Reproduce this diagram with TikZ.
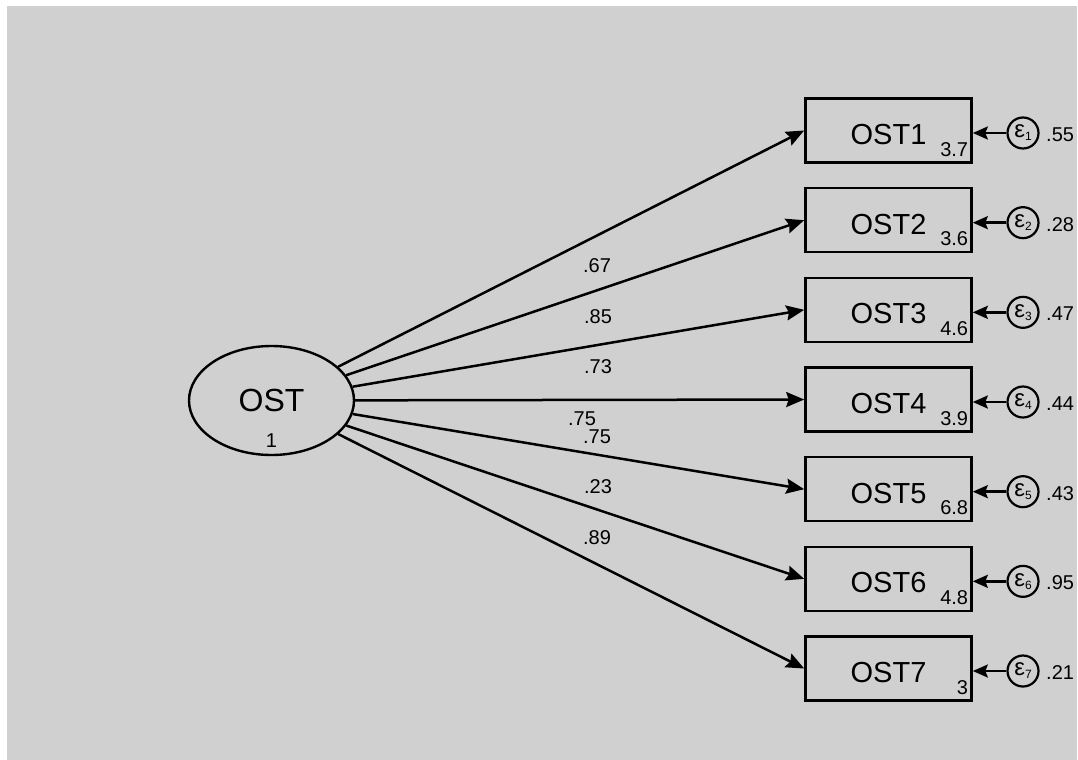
\documentclass[tikz,border=0pt]{standalone}
\usepackage{fontspec}
\setmainfont{Liberation Sans}
\usetikzlibrary{arrows.meta,shapes.geometric,calc}
\definecolor{panel}{RGB}{208,208,208}
\newcommand{\setfs}[1]{\fontsize{#1bp}{#1bp}\selectfont}

\begin{document}
\begin{tikzpicture}[x=1bp,y=-1bp,
  latent/.style={ellipse,draw,line width=2.4bp,minimum width=165bp,minimum height=109bp,inner sep=0pt,font=\setfs{32}},
  observed/.style={rectangle,draw,line width=2.6bp,minimum width=166bp,minimum height=64bp,inner sep=0pt},
  obslabel/.style={inner sep=0pt,anchor=base,font=\setfs{29}},
  intercept/.style={inner sep=0pt,anchor=base east,font=\setfs{20}},
  errnode/.style={circle,draw,line width=2.2bp,minimum size=31bp,inner sep=0pt},
  varlabel/.style={inner sep=0pt,anchor=base west,font=\setfs{20}},
  coef/.style={inner sep=0pt,font=\setfs{20}},
  loading/.style={line width=2.5bp,-{Stealth[length=18bp,width=15bp,inset=2.5bp]}},
  errpath/.style={line width=2.5bp,-{Stealth[length=15bp,width=13bp,inset=2.5bp]}}
]
% canvas
\useasboundingbox (0,0) rectangle (1078,760);
\fill[white] (0,0) rectangle (1078,760);
\fill[panel] (7,6) rectangle (1077,760);

% latent factor
\node[latent] (ost) at (271.5,400.5) {OST};
\node[coef] (ostvar) at (271.5,440.5) {1};

% indicators, their error terms and estimates
\foreach \i/\int/\var in {1/3.7/.55, 2/3.6/.28, 3/4.6/.47, 4/3.9/.44, 5/6.8/.43, 6/4.8/.95, 7/3/.21}{
  \pgfmathsetmacro{\yy}{130.5+89.67*(\i-1)}
  \node[observed] (b\i) at (888.5,\yy) {};
  \node[obslabel] (t\i) at ($(b\i)+(0,14)$) {OST\i};
  \node[intercept] (c\i) at ($(b\i.south east)+(-4.5,-7.5)$) {\int};
  \node[errnode] (e\i) at ($(b\i)+(134.5,2.5)$) {\setfs{24}ε\raisebox{-3bp}{\setfs{12}\i}};
  \node[varlabel] (v\i) at ($(e\i)+(23,8.5)$) {\var};
  \draw[errpath] (e\i) -- (b\i.east |- e\i);
  \draw[loading] (ost) -- (b\i.west);
}

% standardized loadings
\node[coef] (l1) at (597,266) {.67};
\node[coef] (l2) at (598,317) {.85};
\node[coef] (l3) at (598,367) {.73};
\node[coef] (l4) at (582,419) {.75};
\node[coef] (l5) at (597,437) {.75};
\node[coef] (l6) at (598,487) {.23};
\node[coef] (l7) at (597,538) {.89};
\end{tikzpicture}
\end{document}
